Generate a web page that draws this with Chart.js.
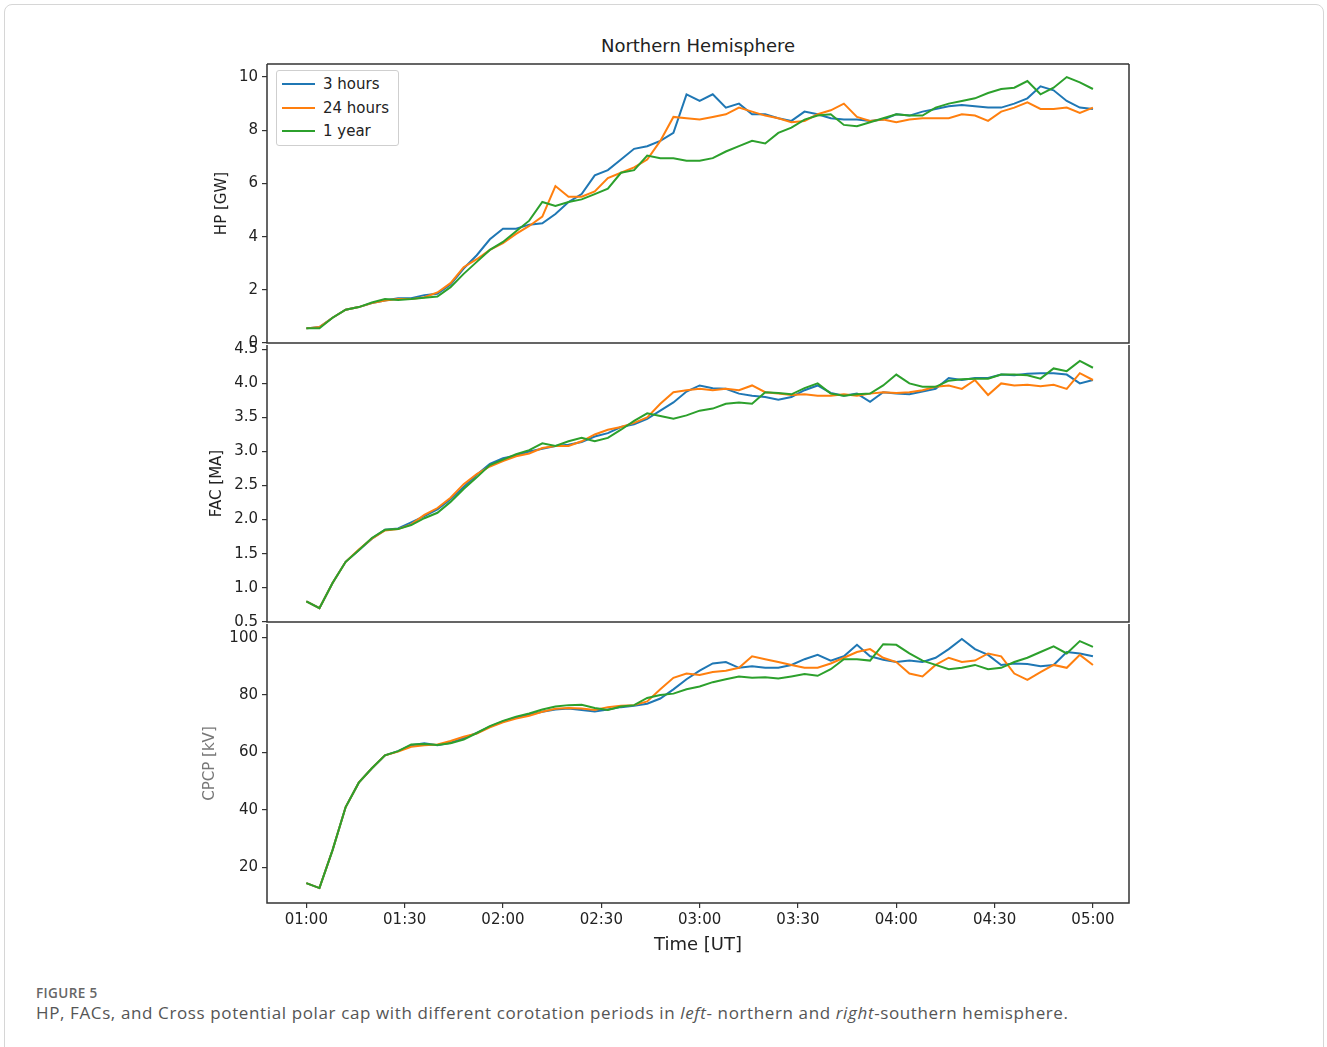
<!DOCTYPE html>
<html>
<head>
<meta charset="utf-8">
<script src="https://cdn.jsdelivr.net/npm/chart.js@4.4.1/dist/chart.umd.min.js"></script>
<style>
  body { margin: 0; background: #fff; width: 1327px; height: 1047px; position: relative; overflow: hidden; font-family: "DejaVu Sans", sans-serif; }
  .card { position: absolute; left: 4px; top: 4px; width: 1318px; height: 1100px; border: 1px solid #d6d6d6; border-radius: 8px; }
  canvas { position: absolute; }
  #title { position: absolute; left: 267px; width: 862px; top: 35px; text-align: center; font-size: 18px; color: #222; }
  #legend { position: absolute; left: 276px; top: 70px; width: 121px; height: 74px; border: 1px solid #cfcfcf; border-radius: 3px; background: #fff; font-size: 15px; color: #222; z-index: 5; }
  #legend div { position: absolute; left: 0; height: 20px; line-height: 20px; white-space: nowrap; }
  #legend span.ln { position: absolute; left: 5px; top: 9px; width: 33px; height: 2px; }
  #legend span.tx { position: absolute; left: 46px; top: 0; }
  #fig { position: absolute; left: 36px; top: 984px; font-family: "Open Sans", sans-serif; font-size: 13.5px; font-weight: 600; letter-spacing: 0.4px; color: #666; }
  #cap { position: absolute; left: 36px; top: 1001px; font-family: "Open Sans", sans-serif; font-size: 17px; letter-spacing: 0.62px; color: #555; white-space: nowrap; }
</style>
</head>
<body>
<div class="card"></div>
<div id="title">Northern Hemisphere</div>
<div id="legend"></div>
<canvas id="hp" width="927" height="305" style="left:213px;top:51px"></canvas>
<canvas id="fac" width="932" height="303" style="left:208px;top:332px"></canvas>
<canvas id="cpcp" width="939" height="370" style="left:201px;top:611px"></canvas>
<div id="fig">FIGURE 5</div>
<div id="cap">HP, FACs, and Cross potential polar cap with different corotation periods in <i>left</i>- northern and <i>right</i>-southern hemisphere.</div>
<script>
// minutes after 01:00 UT
const time = [0, 4, 8, 12, 16, 20, 24, 28, 32, 36, 40, 44, 48, 52, 56, 60, 64, 68, 72, 76, 80, 84, 88, 92, 96, 100,
  104, 108, 112, 116, 120, 124, 128, 132, 136, 140, 144, 148, 152, 156, 160, 164, 168, 172, 176, 180, 184, 188, 192,
  196, 200, 204, 208, 212, 216, 220, 224, 228, 232, 236, 240];
const timeTicks = [0, 30, 60, 90, 120, 150, 180, 210, 240];
const timeLabels = ["01:00", "01:30", "02:00", "02:30", "03:00", "03:30", "04:00", "04:30", "05:00"];
const seriesNames = ["3 hours", "24 hours", "1 year"];
const colors = ["#1f77b4", "#ff7f0e", "#2ca02c"];

// HP [GW]
const hp3h = [0.55, 0.6, 0.95, 1.25, 1.35, 1.5, 1.6, 1.68, 1.68, 1.8, 1.85, 2.2, 2.8, 3.3, 3.9, 4.3, 4.3, 4.45, 4.5, 4.85,
  5.3, 5.6, 6.3, 6.5, 6.9, 7.3, 7.4, 7.6, 7.9, 9.35, 9.1, 9.35, 8.85, 9.0, 8.6, 8.6, 8.45, 8.35, 8.7, 8.6, 8.45, 8.4,
  8.4, 8.35, 8.4, 8.6, 8.55, 8.7, 8.8, 8.9, 8.95, 8.9, 8.85, 8.85, 9.0, 9.2, 9.65, 9.5, 9.1, 8.85, 8.8];
const hp24h = [0.55, 0.6, 0.95, 1.25, 1.35, 1.5, 1.6, 1.65, 1.65, 1.72, 1.9, 2.25, 2.85, 3.15, 3.5, 3.75, 4.1, 4.4, 4.75,
  5.9, 5.5, 5.5, 5.7, 6.2, 6.4, 6.6, 6.9, 7.6, 8.5, 8.45, 8.4, 8.5, 8.6, 8.85, 8.7, 8.55, 8.45, 8.3, 8.35, 8.6, 8.75,
  9.0, 8.5, 8.35, 8.4, 8.3, 8.4, 8.45, 8.45, 8.45, 8.6, 8.55, 8.35, 8.7, 8.85, 9.05, 8.8, 8.8, 8.85, 8.65, 8.85];
const hp1y = [0.55, 0.55, 0.95, 1.25, 1.35, 1.52, 1.65, 1.62, 1.65, 1.7, 1.75, 2.1, 2.6, 3.05, 3.5, 3.8, 4.2, 4.6, 5.3,
  5.15, 5.3, 5.4, 5.6, 5.8, 6.4, 6.5, 7.05, 6.95, 6.95, 6.85, 6.85, 6.95, 7.2, 7.4, 7.6, 7.5, 7.9, 8.1, 8.4, 8.55, 8.6,
  8.2, 8.15, 8.3, 8.45, 8.6, 8.55, 8.55, 8.85, 9.0, 9.1, 9.2, 9.4, 9.55, 9.6, 9.85, 9.35, 9.6, 10.0, 9.8, 9.55];

// FAC [MA]
const fac3h = [0.8, 0.7, 1.07, 1.38, 1.55, 1.72, 1.85, 1.87, 1.96, 2.05, 2.15, 2.3, 2.48, 2.66, 2.82, 2.9, 2.94, 3.0,
  3.04, 3.08, 3.1, 3.14, 3.22, 3.27, 3.36, 3.4, 3.48, 3.6, 3.72, 3.88, 3.97, 3.93, 3.92, 3.85, 3.82, 3.8, 3.76, 3.8,
  3.9, 3.97, 3.86, 3.82, 3.85, 3.73, 3.87, 3.85, 3.84, 3.88, 3.92, 4.08, 4.05, 4.08, 4.08, 4.13, 4.12, 4.14, 4.15,
  4.15, 4.13, 4.0, 4.05];
const fac24h = [0.8, 0.7, 1.07, 1.38, 1.56, 1.72, 1.84, 1.86, 1.93, 2.07, 2.17, 2.32, 2.52, 2.67, 2.78, 2.86, 2.93,
  2.97, 3.05, 3.08, 3.08, 3.15, 3.25, 3.32, 3.36, 3.42, 3.5, 3.7, 3.87, 3.9, 3.92, 3.9, 3.92, 3.9, 3.97, 3.87, 3.85,
  3.83, 3.84, 3.82, 3.82, 3.84, 3.82, 3.85, 3.87, 3.86, 3.87, 3.9, 3.95, 3.97, 3.92, 4.05, 3.83, 4.0, 3.97, 3.98, 3.96,
  3.98, 3.92, 4.15, 4.05];
const fac1y = [0.8, 0.7, 1.07, 1.38, 1.55, 1.73, 1.85, 1.86, 1.92, 2.02, 2.1, 2.26, 2.45, 2.62, 2.8, 2.88, 2.96, 3.02,
  3.12, 3.08, 3.15, 3.2, 3.15, 3.2, 3.32, 3.45, 3.56, 3.52, 3.48, 3.53, 3.6, 3.63, 3.7, 3.72, 3.7, 3.87, 3.86, 3.84,
  3.93, 4.0, 3.85, 3.82, 3.84, 3.85, 3.97, 4.13, 4.0, 3.95, 3.95, 4.04, 4.06, 4.07, 4.07, 4.13, 4.13, 4.12, 4.07, 4.22,
  4.18, 4.33, 4.23];

// CPCP [kV]
const cpcp3h = [14.5, 12.8, 26, 41, 49.5, 54.5, 59, 60.5, 62.5, 63.2, 62.5, 63.4, 65, 66.8, 69, 70.8, 72.2, 73.2, 74.2,
  75, 75.3, 74.8, 74.3, 75, 75.8, 76.3, 77, 78.8, 82, 85.5, 88.5, 91, 91.5, 89.5, 90, 89.5, 89.5, 90.5, 92.5, 94, 92,
  93.5, 97.5, 93.5, 92.3, 91.5, 92, 91.5, 93, 96, 99.5, 96, 94, 90.5, 91, 90.8, 90, 90.5, 95, 94.5, 93.5];
const cpcp24h = [14.5, 12.8, 26, 41, 49.5, 54.5, 59, 60.3, 62, 62.5, 62.8, 64, 65.5, 66.6, 68.8, 70.5, 71.8, 72.8, 74.2,
  75.2, 75.5, 75.3, 74.8, 75.8, 76.3, 76.5, 77.8, 82, 86, 87.5, 87, 88, 88.5, 89.5, 93.5, 92.5, 91.5, 90.5, 89.5, 89.5,
  91, 93, 95, 96, 93, 91.5, 87.5, 86.5, 90.5, 93, 91.5, 92, 94.5, 93.5, 87.5, 85.3, 88, 90.5, 89.5, 94, 90.5];
const cpcp1y = [14.5, 12.8, 26, 41, 49.5, 54.5, 59, 60.5, 62.8, 63, 62.6, 63.2, 64.5, 66.8, 69.2, 71, 72.5, 73.6, 75,
  76, 76.5, 76.6, 75.5, 74.8, 76, 76.5, 79, 80, 80.5, 82, 83, 84.5, 85.5, 86.5, 86, 86.2, 85.8, 86.5, 87.3, 86.7, 89,
  92.5, 92.5, 92, 97.7, 97.5, 94.5, 92, 90.5, 89, 89.5, 90.5, 89, 89.5, 91.5, 93, 95, 97, 94.5, 98.8, 96.8];

const hpTicks = [0, 2, 4, 6, 8, 10];
const facTicks = [0.5, 1.0, 1.5, 2.0, 2.5, 3.0, 3.5, 4.0, 4.5];
const cpcpTicks = [20, 40, 60, 80, 100];

// legend
const legend = document.getElementById("legend");
seriesNames.forEach((name, i) => {
  const row = document.createElement("div");
  row.style.top = (3 + i * 23.5) + "px";
  row.innerHTML = '<span class="ln" style="background:' + colors[i] + '"></span><span class="tx">' + name + "</span>";
  legend.appendChild(row);
});

// box round each panel; lower panels share their top edge with the one above
function framePlugin(drawTop) {
  return {
    id: "frame",
    afterDatasetsDraw(chart) {
      const { ctx, chartArea: a } = chart;
      ctx.save();
      ctx.strokeStyle = "#333";
      ctx.lineWidth = 1.5;
      ctx.beginPath();
      if (drawTop) {
        ctx.moveTo(a.left, a.top);
        ctx.lineTo(a.right, a.top);
      }
      ctx.moveTo(a.right, a.top);
      ctx.lineTo(a.right, a.bottom);
      ctx.lineTo(a.left, a.bottom);
      ctx.lineTo(a.left, a.top);
      ctx.stroke();
      ctx.restore();
    }
  };
}

const axisGrid = { display: true, drawOnChartArea: false, drawTicks: true, tickLength: 5, color: "#333", lineWidth: 1.2 };

function makePanel(id, left, series, yMin, yMax, yTicks, yTitle, titleColor, fmt, showX, drawTop) {
  const datasets = series.map((vals, i) => ({
    label: seriesNames[i],
    data: time.map((t, j) => ({ x: t, y: vals[j] })),
    borderColor: colors[i],
    backgroundColor: colors[i],
    borderWidth: 2,
    pointRadius: 0,
    tension: 0,
    order: 2 - i
  }));
  return new Chart(document.getElementById(id), {
    type: "line",
    data: { datasets },
    options: {
      responsive: false,
      animation: false,
      layout: { padding: { left: 0, right: 11, top: 12, bottom: showX ? 0 : 12 } },
      plugins: { legend: { display: false }, tooltip: { enabled: false } },
      scales: {
        x: {
          type: "linear",
          min: -12,
          max: 251,
          display: showX,
          afterBuildTicks: (axis) => { axis.ticks = timeTicks.map(v => ({ value: v })); },
          afterFit: (axis) => { axis.height = showX ? 78 : 0; },
          ticks: {
            callback: (v) => timeLabels[timeTicks.indexOf(v)],
            font: { family: "DejaVu Sans", size: 15 },
            color: "#222",
            padding: 3,
            maxRotation: 0,
            autoSkip: false
          },
          grid: axisGrid,
          border: { display: false },
          title: {
            display: true,
            text: "Time [UT]",
            font: { family: "DejaVu Sans", size: 18 },
            color: "#222",
            padding: { top: 4, bottom: 25 }
          }
        },
        y: {
          min: yMin,
          max: yMax,
          afterBuildTicks: (axis) => { axis.ticks = yTicks.map(v => ({ value: v })); },
          afterFit: (axis) => { axis.width = 267 - left; },
          ticks: {
            callback: fmt,
            font: { family: "DejaVu Sans", size: 15 },
            color: "#222",
            padding: 4,
            autoSkip: false
          },
          grid: axisGrid,
          border: { display: false },
          title: {
            display: true,
            text: yTitle,
            font: { family: "DejaVu Sans", size: 15 },
            color: titleColor,
            padding: 0
          }
        }
      }
    },
    plugins: [framePlugin(drawTop)]
  });
}

makePanel("hp", 213, [hp3h, hp24h, hp1y], 0, 10.49, hpTicks, "HP [GW]", "#222", (v) => String(v), false, true);
makePanel("fac", 208, [fac3h, fac24h, fac1y], 0.496, 4.564, facTicks, "FAC [MA]", "#222", (v) => v.toFixed(1), false, false);
makePanel("cpcp", 201, [cpcp3h, cpcp24h, cpcp1y], 7.6, 104.75, cpcpTicks, "CPCP [kV]", "#777", (v) => String(v), true, false);
</script>
</body>
</html>
